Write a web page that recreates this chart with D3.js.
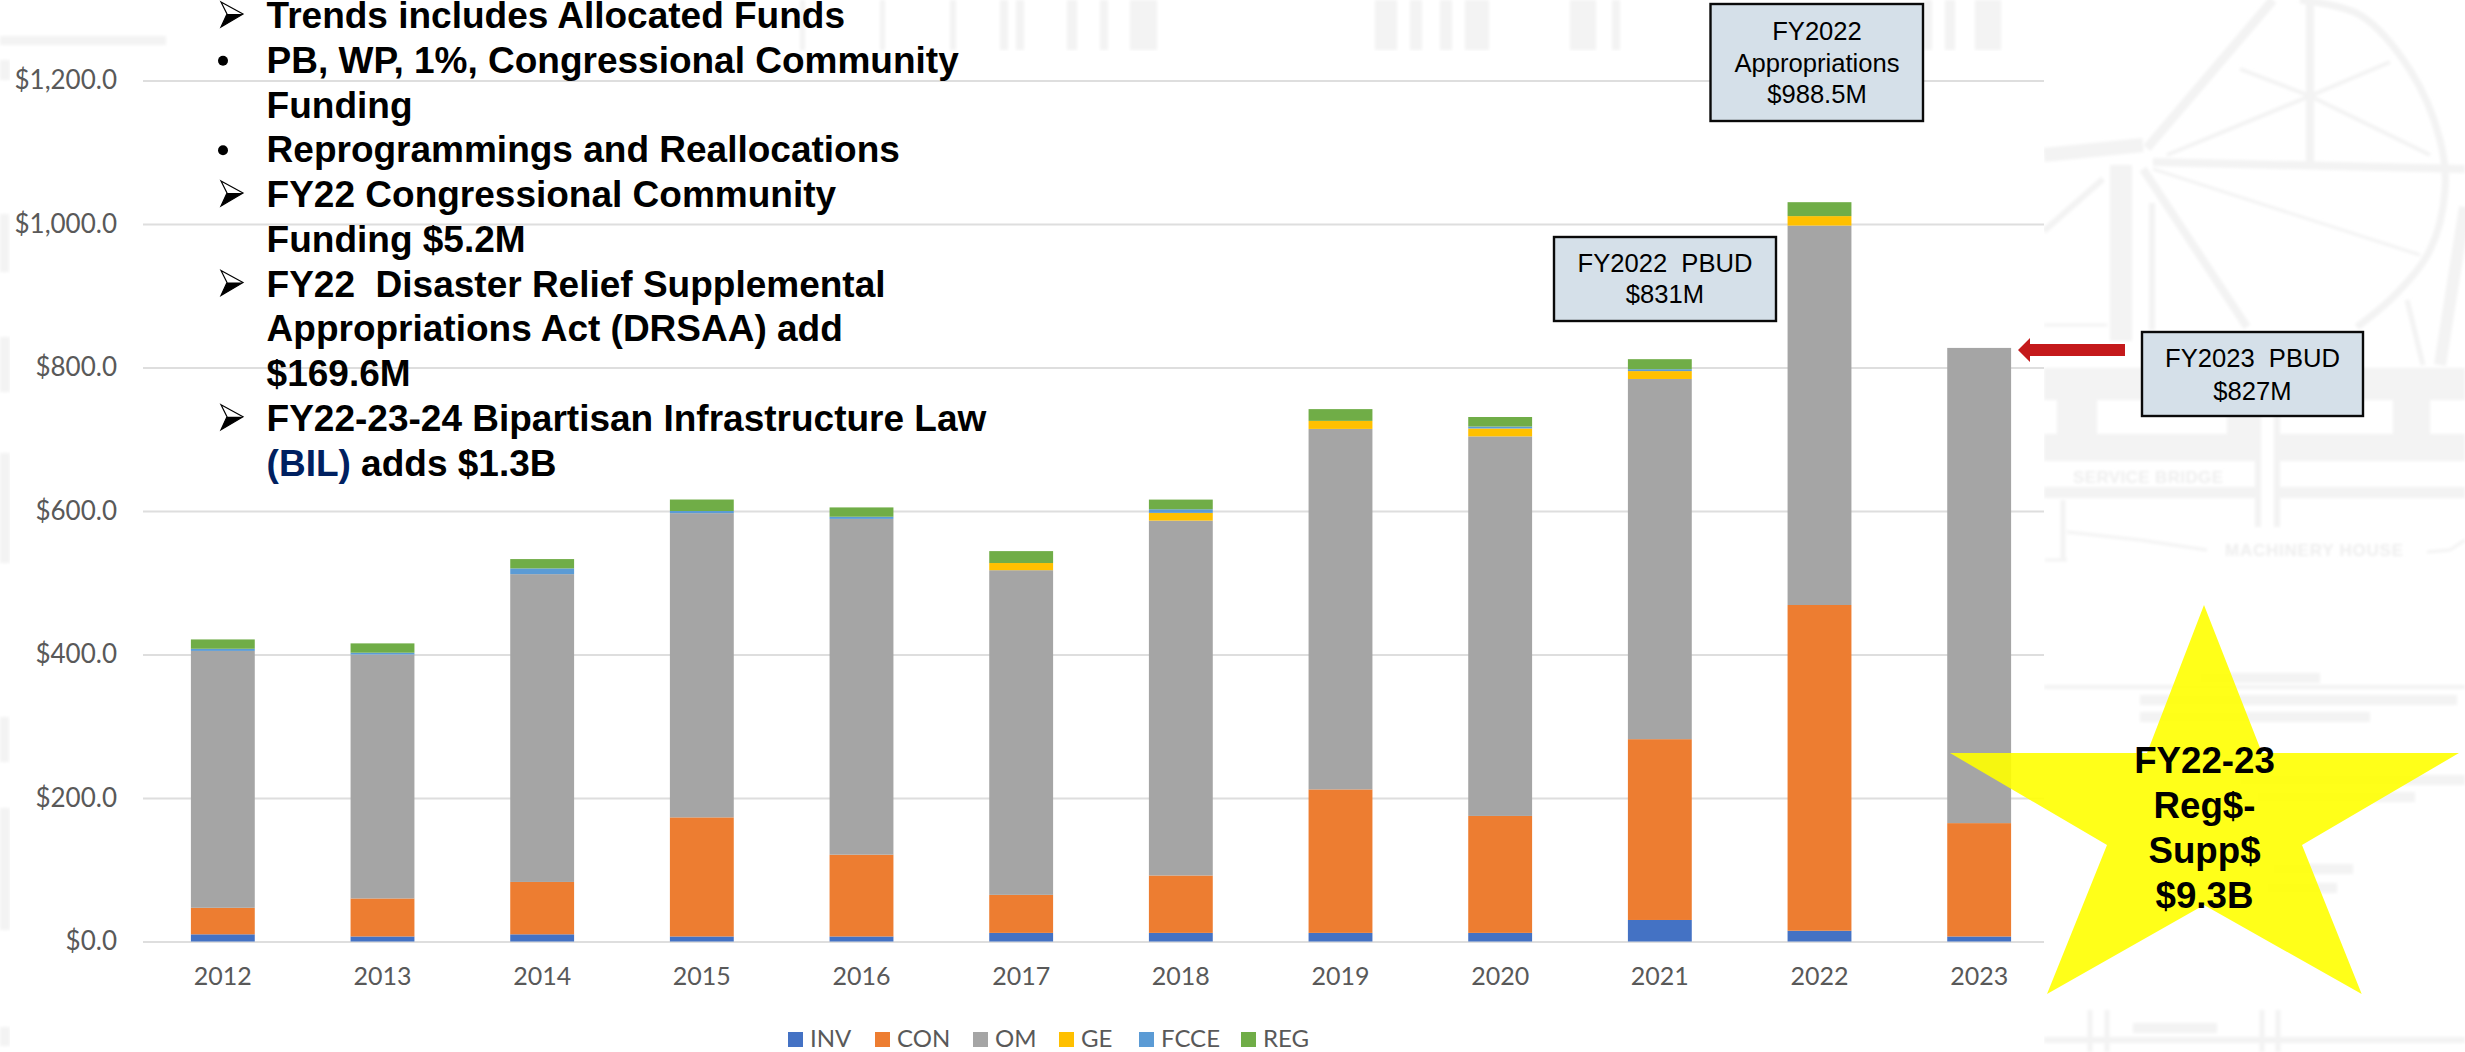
<!DOCTYPE html>
<html>
<head>
<meta charset="utf-8">
<script src="https://cdn.jsdelivr.net/npm/d3@7"></script>
<style>
    html, body { margin: 0; padding: 0; background: #fff; overflow: hidden; }
    svg { display: block; }
    .y.axis text { font-family: Lato, sans-serif; font-size: 26px; fill: #595959; }
    .x.axis text { font-family: Lato, sans-serif; font-size: 25px; fill: #595959; }
    .legend text { font-family: Lato, sans-serif; font-size: 24px; fill: #595959; }
    .notes text { font-family: "Liberation Sans", Arial, sans-serif; font-size: 37px; font-weight: bold; fill: #000; white-space: pre; }
    .callout text { font-family: "Liberation Sans", Arial, sans-serif; font-size: 25.6px; fill: #000; text-anchor: middle; white-space: pre; }
    .star text { font-family: "Liberation Sans", Arial, sans-serif; font-size: 36.7px; font-weight: bold; fill: #000; text-anchor: middle; }
    .wm text { font-family: "Liberation Sans", Arial, sans-serif; font-weight: bold; font-size: 17px; fill: #eeeeee; }
</style>
</head>
<body>
<div id="main"></div>
<script>
const years = ["2012", "2013", "2014", "2015", "2016", "2017", "2018", "2019", "2020", "2021", "2022", "2023"];
const seriesNames = ["INV", "CON", "OM", "GE", "FCCE", "REG"];
const yTicks = [0, 200, 400, 600, 800, 1000, 1200];

// values in $M
const inv = [10, 7, 10, 7, 7, 12, 12, 12, 12, 30, 15, 7];
const con = [37, 53, 73, 166, 114, 53, 80, 200, 163, 252, 454, 158];
const om = [358, 340, 429, 424, 468, 452.5, 494.6, 502.4, 529, 502, 528.8, 662.3];
const ge = [0, 0, 0, 0, 0, 10, 10.8, 11.2, 11, 11, 13.2, 0];
const fcce = [3, 2.5, 8, 3, 3, 0, 5, 0, 2.7, 2.6, 0, 0];
const reg = [13, 13, 13, 16, 13, 16.6, 13.5, 16.4, 13.3, 14, 19.4, 0];

const seriesValues = [inv, con, om, ge, fcce, reg];
const colors = ["#4472C4", "#ED7D31", "#A5A5A5", "#FFC000", "#5B9BD5", "#70AD47"];

const notes = [
    {mark: "arrow", parts: [["Trends includes Allocated Funds"]]},
    {mark: "dot", parts: [["PB, WP, 1%, Congressional Community"]]},
    {parts: [["Funding"]]},
    {mark: "dot", parts: [["Reprogrammings and Reallocations"]]},
    {mark: "arrow", parts: [["FY22 Congressional Community"]]},
    {parts: [["Funding $5.2M"]]},
    {mark: "arrow", parts: [["FY22  Disaster Relief Supplemental"]]},
    {parts: [["Appropriations Act (DRSAA) add"]]},
    {parts: [["$169.6M"]]},
    {mark: "arrow", parts: [["FY22-23-24 Bipartisan Infrastructure Law"]]},
    {parts: [["(BIL)", "#002060"], [" adds $1.3B"]]}
];

const width = 2465;
const height = 1052;
const wmColor = '#f3f3f3';

const svg = d3.select('#main').append('svg')
    .attr('width', width)
    .attr('height', height);

const defs = svg.append('defs');
defs.append('filter').attr('id', 'soft')
    .append('feGaussianBlur').attr('stdDeviation', 1.6);

// faint blueprint behind the chart
const wm = svg.append('g').attr('class', 'wm').attr('filter', 'url(#soft)');

const wmBlocks = [
    [1000, 0, 8, 50], [1016, 0, 8, 50], [1067, 0, 10, 50], [1100, 0, 8, 50], [1130, 0, 27, 50],
    [1375, 0, 22, 50], [1410, 0, 12, 50], [1440, 0, 12, 50], [1465, 0, 24, 50],
    [1570, 0, 26, 50], [1612, 0, 8, 50], [1924, 0, 8, 50], [1945, 0, 10, 50], [1975, 0, 26, 50],
    [800, 0, 5, 50], [880, 0, 5, 50], [950, 0, 6, 50],
    [0, 36, 166, 9],
    [0, 60, 10, 20], [0, 214, 9, 58], [0, 337, 10, 55], [0, 453, 10, 110], [0, 717, 9, 45], [0, 808, 10, 122], [0, 1027, 10, 19],
    [2044, 368, 421, 32], [2057, 400, 40, 41], [2227, 400, 33, 41], [2393, 400, 37, 41],
    [2044, 434, 214, 27], [2280, 434, 185, 27],
    [2044, 487, 214, 11], [2280, 487, 185, 11],
    [2140, 695, 317, 10], [2140, 712, 230, 10], [2200, 673, 120, 10],
    [2240, 775, 225, 10], [2257, 792, 158, 10], [2273, 864, 80, 10], [2267, 883, 70, 10],
    [2133, 1023, 84, 10], [2044, 1037, 421, 6]
];
wm.selectAll('rect')
    .data(wmBlocks)
    .enter()
    .append('rect')
    .attr('x', d => d[0])
    .attr('y', d => d[1])
    .attr('width', d => d[2])
    .attr('height', d => d[3])
    .attr('fill', wmColor);

const wmLines = [
    [2273, 0, 2147, 148, 9], [2310, 0, 2310, 162, 8], [2153, 162, 2465, 169, 8],
    [2310, 96, 2167, 155, 4], [2310, 96, 2430, 155, 4], [2310, 96, 2390, 62, 4], [2310, 96, 2240, 69, 4],
    [2153, 169, 2420, 255, 3], [2044, 155, 2143, 145, 14], [2121, 165, 2121, 341, 22],
    [2044, 231, 2103, 179, 6], [2143, 169, 2247, 327, 8], [2152, 203, 2152, 330, 6],
    [2407, 300, 2423, 365, 5], [2465, 207, 2440, 365, 12], [2044, 325, 2107, 325, 3],
    [2258, 400, 2258, 527, 6], [2277, 400, 2277, 527, 6], [2063, 500, 2063, 560, 5], [2045, 560, 2067, 560, 3],
    [2067, 532, 2140, 540, 3], [2140, 540, 2207, 550, 3], [2427, 552, 2450, 550, 3], [2450, 550, 2465, 540, 3],
    [2044, 687, 2465, 687, 4], [2090, 1010, 2090, 1052, 5], [2107, 1010, 2107, 1052, 5], [2262, 1010, 2262, 1052, 5], [2278, 1010, 2278, 1052, 5]
];
wm.selectAll('line')
    .data(wmLines)
    .enter()
    .append('line')
    .attr('x1', d => d[0])
    .attr('y1', d => d[1])
    .attr('x2', d => d[2])
    .attr('y2', d => d[3])
    .attr('stroke', wmColor)
    .attr('stroke-width', d => d[4]);

const wheelRim = [[2300, 0], [2360, 15], [2410, 70], [2440, 140], [2445, 190], [2430, 250], [2395, 295], [2357, 327]];
wm.append('path')
    .attr('d', d3.line().curve(d3.curveCatmullRom)(wheelRim))
    .attr('fill', 'none')
    .attr('stroke', wmColor)
    .attr('stroke-width', 7);

wm.append('text').attr('x', 2073).attr('y', 483).text('SERVICE BRIDGE').attr('textLength', 150);
wm.append('text').attr('x', 2225).attr('y', 556).text('MACHINERY HOUSE').attr('textLength', 178);

// white panel the chart sits on
svg.append('rect')
    .attr('x', 10)
    .attr('y', 51)
    .attr('width', 2034)
    .attr('height', 1001)
    .attr('fill', '#fff');

const xScale = d3.scaleBand()
    .domain(years)
    .range([143, 2059])
    .paddingInner(0.6)
    .paddingOuter(0.3);

const yScale = d3.scaleLinear()
    .domain([0, 1200])
    .range([941.5, 80.5]);

const yAxis = d3.axisLeft(yScale)
    .tickValues(yTicks)
    .tickFormat(d3.format('$,.1f'))
    .tickSize(-(2044 - 143))
    .tickPadding(26);

const xAxis = d3.axisBottom(xScale)
    .tickSize(0)
    .tickPadding(26);

const yG = svg.append('g')
    .attr('class', 'y axis')
    .attr('transform', 'translate(143,0)')
    .call(yAxis);
yG.select('.domain').remove();
yG.selectAll('line').attr('stroke', '#DEDEDE').attr('stroke-width', 2.2);

const xG = svg.append('g')
    .attr('class', 'x axis')
    .attr('transform', 'translate(0,941.5)')
    .call(xAxis);
xG.select('.domain').remove();

// stacked bars
const rows = years.map(function (y, i) {
    const row = {year: y};
    seriesNames.forEach(function (s, j) {
        row[s] = seriesValues[j][i];
    });
    return row;
});

const stacked = d3.stack().keys(seriesNames)(rows);

svg.append('g')
    .selectAll('g')
    .data(stacked)
    .enter()
    .append('g')
    .attr('fill', (d, i) => colors[i])
    .selectAll('rect')
    .data(d => d)
    .enter()
    .append('rect')
    .attr('x', d => xScale(d.data.year))
    .attr('y', d => yScale(d[1]))
    .attr('width', xScale.bandwidth())
    .attr('height', d => yScale(d[0]) - yScale(d[1]));

// legend
const legendX = [788, 875, 973, 1059, 1139, 1241];
const legend = svg.append('g').attr('class', 'legend')
    .selectAll('g')
    .data(seriesNames)
    .enter()
    .append('g')
    .attr('transform', (d, i) => 'translate(' + legendX[i] + ',1032)');
legend.append('rect')
    .attr('width', 15)
    .attr('height', 15)
    .attr('fill', (d, i) => colors[i]);
legend.append('text')
    .attr('x', 22)
    .attr('y', 15)
    .text(d => d);

// notes on the left
const notesG = svg.append('g').attr('class', 'notes');
const noteY = d3.scaleLinear().domain([0, 10]).range([28, 475.5]);
notes.forEach(function (n, i) {
    const y = noteY(i);
    if (n.mark === 'dot') {
        notesG.append('circle')
            .attr('cx', 223)
            .attr('cy', y - 12)
            .attr('r', 5)
            .attr('fill', '#000');
    } else if (n.mark === 'arrow') {
        const m = notesG.append('g').attr('transform', 'translate(221,' + (y - 26) + ')');
        m.append('path').attr('d', 'M0,0 L22,12 L0,25 L6,12 Z').attr('fill', '#fff').attr('stroke', '#000').attr('stroke-width', 1.2);
        m.append('path').attr('d', 'M6,12 L22,12 L0,25 Z').attr('fill', '#000');
    }
    const t = notesG.append('text')
        .attr('x', 266.6)
        .attr('y', y);
    n.parts.forEach(function (p) {
        t.append('tspan')
            .style('fill', p[1] || null)
            .text(p[0]);
    });
});

// callout boxes
const callouts = [
    {x: 1710.5, y: 4, w: 212.5, h: 117, cx: 1817, lines: [["FY2022", 40], ["Appropriations", 71.7], ["$988.5M", 103]]},
    {x: 1554, y: 237, w: 222, h: 84, cx: 1665, lines: [["FY2022  PBUD", 271.7], ["$831M", 303]]},
    {x: 2142, y: 332, w: 221, h: 84, cx: 2252.5, lines: [["FY2023  PBUD", 367], ["$827M", 399.5]]}
];
const calloutG = svg.append('g').attr('class', 'callout');
callouts.forEach(function (c) {
    calloutG.append('rect')
        .attr('x', c.x)
        .attr('y', c.y)
        .attr('width', c.w)
        .attr('height', c.h)
        .attr('fill', '#D5E0E9')
        .attr('stroke', '#0a0a0a')
        .attr('stroke-width', 2.4);
    c.lines.forEach(function (l) {
        calloutG.append('text').attr('x', c.cx).attr('y', l[1]).text(l[0]);
    });
});

// red arrow to the 2023 bar
svg.append('path')
    .attr('d', 'M2018,350 L2030,338 L2030,344 L2125,344 L2125,356 L2030,356 L2030,362 Z')
    .attr('fill', '#C4191B');

// star
const starG = svg.append('g').attr('class', 'star');
const starPts = [[2204, 605], [2262, 753], [2459, 753], [2302, 845], [2361.7, 994], [2204, 905], [2047, 994], [2107, 845], [1950, 753], [2147, 753]];
starG.append('polygon')
    .attr('points', starPts.map(p => p.join(',')).join(' '))
    .attr('fill', '#FFFF00')
    .attr('fill-opacity', 0.9);
const starLines = [["FY22-23", 773], ["Reg$-", 818], ["Supp$", 863], ["$9.3B", 908]];
starLines.forEach(function (l) {
    starG.append('text').attr('x', 2204.5).attr('y', l[1]).text(l[0]);
});
</script>
</body>
</html>
